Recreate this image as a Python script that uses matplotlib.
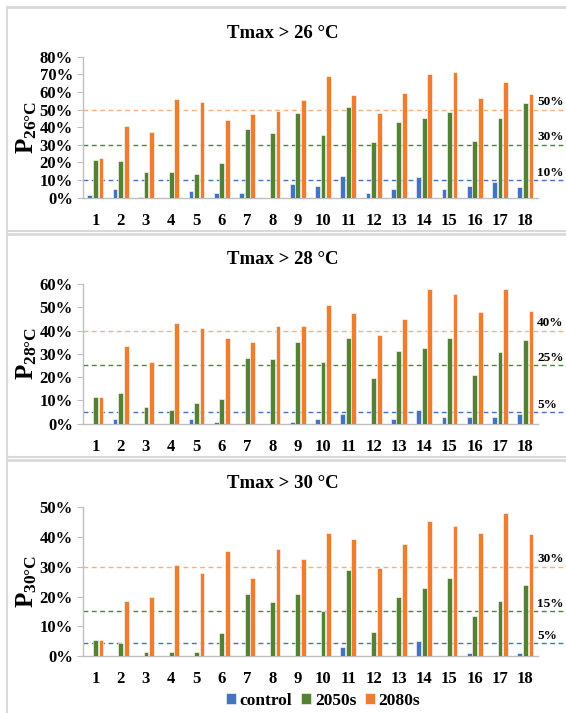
"""Exceedance probability of Tmax thresholds per site: control vs 2050s vs 2080s."""
import numpy as np
import matplotlib
matplotlib.use("Agg")
import matplotlib.pyplot as plt
from matplotlib.lines import Line2D
import matplotlib.ticker as ticker

# ─── Data (in %) ────────────────────────────────────────────────────────────
sites = list(range(1, 19))
series_names = ["control", "2050s", "2080s"]

p26_control = [1.5, 4.8, 0.5, 0, 3.8, 2.8, 2.8, 0, 7.6, 6.6, 12.5, 2.6, 4.8, 11.9, 4.8, 6.5, 8.7, 6.0]
p26_2050s = [21.2, 20.6, 14.6, 14.6, 13.4, 19.5, 39.1, 36.5, 48.2, 35.3, 51.2, 31.6, 42.9, 45.2, 48.8, 32.1, 45.2, 53.9]
p26_2080s = [22.3, 40.6, 37.1, 56.1, 54.1, 44.1, 47.4, 49.1, 55.2, 69.0, 58.4, 48.2, 59.3, 70.4, 71.5, 56.7, 65.4, 58.8]

p28_control = [0, 2.0, 0, 0, 2.0, 0.8, 0, 0, 0.8, 2.0, 4.0, 0, 2.0, 5.8, 2.8, 2.8, 2.8, 4.0]
p28_2050s = [11.4, 13.0, 7.2, 6.0, 8.9, 10.6, 28.3, 27.6, 35.0, 26.3, 37.0, 19.6, 31.1, 32.4, 37.0, 21.1, 30.7, 36.1]
p28_2080s = [11.4, 33.3, 26.7, 43.1, 41.1, 37.0, 35.0, 41.9, 42.0, 51.1, 47.7, 37.9, 44.9, 58.0, 55.6, 48.1, 58.0, 48.6]

p30_control = [0, 0, 0, 0, 0, 0, 0, 0, 0, 0, 3.0, 0, 0, 5.0, 0, 1.0, 0, 1.0]
p30_2050s = [5.5, 4.5, 1.5, 1.5, 1.5, 7.8, 20.7, 18.1, 20.7, 15.1, 28.9, 8.1, 19.7, 23.0, 26.2, 13.5, 18.5, 24.0]
p30_2080s = [5.5, 18.6, 19.7, 30.5, 27.9, 35.3, 26.2, 35.9, 32.7, 41.5, 39.2, 29.6, 37.6, 45.4, 43.7, 41.5, 48.0, 41.0]

# reference levels (control, 2050s, 2080s) and their printed labels
p26_levels = [10, 30, 50]
p26_level_labels = ["10%", "30%", "50%"]
p28_levels = [5, 25, 40]
p28_level_labels = ["5%", "25%", "40%"]
p30_levels = [4.3, 15, 30]
p30_level_labels = ["5%", "15%", "30%"]

# ─── Style ──────────────────────────────────────────────────────────────────
_C = dict(
    blue="#4472C4",
    green="#548235",
    orange="#ED7D31",
    orange_line="#F4B183",
    axis="#BFBFBF",
    frame="#D9D9D9",
)
bar_colors = [_C["blue"], _C["green"], _C["orange"]]
line_colors = [_C["blue"], _C["green"], _C["orange_line"]]

plt.rcParams["font.family"] = ["Liberation Serif", "DejaVu Serif"]
plt.rcParams["font.weight"] = "bold"
plt.rcParams["mathtext.fontset"] = "custom"
plt.rcParams["mathtext.rm"] = "Liberation Serif:bold"
plt.rcParams["mathtext.bf"] = "Liberation Serif:bold"
plt.rcParams["mathtext.it"] = "Liberation Serif:bold"

W, H = 566, 713
fig = plt.figure(figsize=(W / 100, H / 100), dpi=100, facecolor="white")


def fx(px):
    return px / W


def fy(px):
    return 1 - px / H


def draw_panel(rect, title, title_y, ylabel, ymax, values, levels, level_labels):
    ax = fig.add_axes(rect)
    x = np.arange(len(sites)) + 1
    width, offset = 0.19, 0.22
    for i, (vals, col) in enumerate(zip(values, bar_colors)):
        ax.bar(x + (i - 1) * offset, vals, width=width, color=col,
               edgecolor="white", linewidth=0.4, zorder=3,
               label=series_names[i])

    # dashed reference levels run past the plot to the right edge
    for lvl, lab, col in zip(levels, level_labels, line_colors):
        ax.axhline(lvl, xmin=0, xmax=1.2, color=col, lw=1.0,
                   ls=(0, (3.5, 2.5)), clip_on=False, zorder=2)
        ax.annotate(lab, xy=(1.0, lvl), xycoords=("axes fraction", "data"),
                    xytext=(-0.5, 1), textcoords="offset points",
                    ha="left", va="bottom", fontsize=9.5, fontweight="bold",
                    annotation_clip=False)

    ax.set_xlim(0.5, len(sites) + 0.5)
    ax.set_ylim(0, ymax)
    ax.set_xticks(x)
    ax.set_xticklabels([str(s) for s in sites])
    ax.yaxis.set_major_locator(ticker.MultipleLocator(10))
    ax.yaxis.set_major_formatter(ticker.FuncFormatter(lambda v, _: f"{v:.0f}%"))
    ax.tick_params(axis="x", length=0, pad=11, labelsize=12)
    ax.tick_params(axis="y", length=4, width=0.8, color=_C["axis"],
                   pad=3, labelsize=12)
    for s in ("top", "right"):
        ax.spines[s].set_visible(False)
    for s in ("left", "bottom"):
        ax.spines[s].set_color(_C["axis"])
        ax.spines[s].set_linewidth(1.0)

    fig.text(0.5, title_y, title, ha="center", va="center",
             fontsize=13.5, fontweight="bold")
    fig.text(fx(27), rect[1] + rect[3] / 2, ylabel, ha="center", va="center",
             rotation=90, fontsize=18)
    return ax


left, width = fx(82.7), fx(538) - fx(82.7)

draw_panel([left, fy(197.7), width, fy(56.7) - fy(197.7)],
           "Tmax > 26 °C", fy(33), r"$\mathrm{P}_{\mathrm{26°C}}$", 80,
           [p26_control, p26_2050s, p26_2080s], p26_levels, p26_level_labels)

draw_panel([left, fy(423.7), width, fy(284) - fy(423.7)],
           "Tmax > 28 °C", fy(259), r"$\mathrm{P}_{\mathrm{28°C}}$", 60,
           [p28_control, p28_2050s, p28_2080s], p28_levels, p28_level_labels)

ax3 = draw_panel([left, fy(656), width, fy(507.3) - fy(656)],
                 "Tmax > 30 °C", fy(484), r"$\mathrm{P}_{\mathrm{30°C}}$", 50,
                 [p30_control, p30_2050s, p30_2080s], p30_levels, p30_level_labels)

handles, labels = ax3.get_legend_handles_labels()
fig.legend(handles, labels, loc="center", bbox_to_anchor=(fx(323), fy(701)),
           ncol=3, frameon=False, fontsize=12.5, handlelength=0.6,
           handleheight=0.6, handletextpad=0.2, columnspacing=0.5)

# ─── Panel frames (stacked chart boxes) ─────────────────────────────────────
for y0 in (7, 234, 460):
    fig.add_artist(Line2D([fx(7), 1.0], [fy(y0), fy(y0)], color=_C["frame"],
                          lw=2.0, transform=fig.transFigure))
for y0 in (231, 457):
    fig.add_artist(Line2D([fx(7), 1.0], [fy(y0), fy(y0)], color=_C["frame"],
                          lw=1.5, transform=fig.transFigure))
fig.add_artist(Line2D([fx(7), fx(7)], [fy(7), 0.0], color=_C["frame"],
                      lw=1.5, transform=fig.transFigure))

fig.savefig("out.png", dpi=100, facecolor="white")
